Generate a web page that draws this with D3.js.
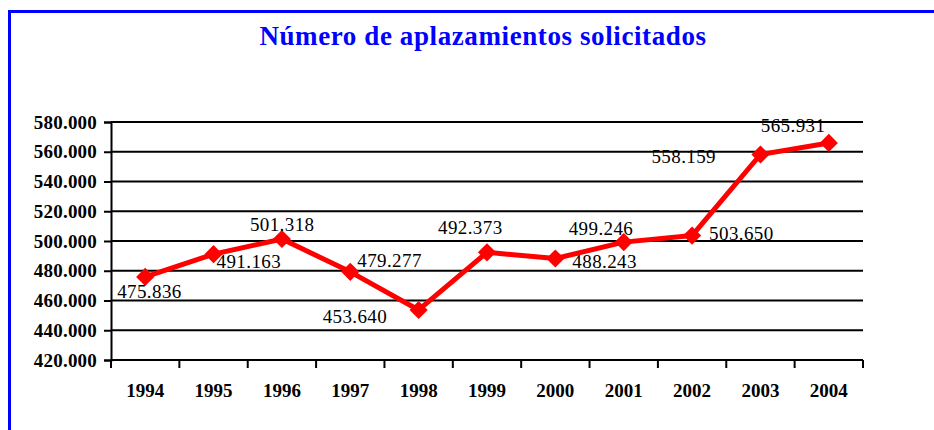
<!DOCTYPE html>
<html>
<head>
<meta charset="utf-8">
<script src="https://cdn.jsdelivr.net/npm/d3@7"></script>
<style>
  body { margin: 0; background: #fff; }
  svg { display: block; }
</style>
</head>
<body>
<div id="chart"></div>
<script>
const width = 934;
const height = 430;

// Data
const years = ["1994", "1995", "1996", "1997", "1998", "1999", "2000", "2001", "2002", "2003", "2004"];
const solicitudes = [475836, 491163, 501318, 479277, 453640, 492373, 488243, 499246, 503650, 558159, 565931];
const yTicks = [420000, 440000, 460000, 480000, 500000, 520000, 540000, 560000, 580000];

// Where each value label sits relative to its marker (dx, dy)
const labelShift = [[-28, 21], [3, 14], [-32, -8], [7, -5], [-96, 13], [-49, -18],
                    [17, 10], [-55, -7], [17, 4], [-109, 9], [-68, -11]];

const margin = { left: 111, right: 71, top: 122, bottom: 70 };
const serif = "'Liberation Serif', 'Times New Roman', serif";

const svg = d3.select("#chart")
    .append("svg")
    .attr("width", width)
    .attr("height", height);

// Blue frame (runs off the right and bottom edges)
svg.append("rect")
    .attr("x", 9.5)
    .attr("y", 11.5)
    .attr("width", width + 20)
    .attr("height", height + 20)
    .attr("fill", "none")
    .attr("stroke", "#0000ff")
    .attr("stroke-width", 3);

svg.append("text")
    .attr("x", 483)
    .attr("y", 45)
    .attr("text-anchor", "middle")
    .attr("font-family", serif)
    .attr("font-weight", "bold")
    .attr("font-size", "27px")
    .attr("letter-spacing", "0.6px")
    .attr("fill", "#0000ff")
    .text("Número de aplazamientos solicitados");

const x = d3.scaleBand()
    .domain(years)
    .range([margin.left, width - margin.right]);

const y = d3.scaleLinear()
    .domain([420000, 580000])
    .range([height - margin.bottom, margin.top]);

const es = d3.formatLocale({ decimal: ",", thousands: ".", grouping: [3], currency: ["", ""] });
const fmt = es.format(",");

// Gridlines
svg.append("g")
    .selectAll("line")
    .data(yTicks.slice(1))
    .enter()
    .append("line")
    .attr("x1", margin.left)
    .attr("x2", width - margin.right)
    .attr("y1", d => y(d))
    .attr("y2", d => y(d))
    .attr("stroke", "#000")
    .attr("stroke-width", 2);

// Y axis
const yAxis = svg.append("g")
    .attr("transform", `translate(${margin.left},0)`)
    .call(d3.axisLeft(y).tickValues(yTicks).tickSize(7).tickPadding(7).tickFormat(fmt));
yAxis.select(".domain").attr("stroke", "#000").attr("stroke-width", 2);
yAxis.selectAll(".tick line").attr("stroke-width", 2);
yAxis.selectAll("text")
    .attr("font-family", serif)
    .attr("font-weight", "bold")
    .attr("font-size", "19px")
    .attr("letter-spacing", "0.2px")
    .attr("fill", "#000");

// X axis with ticks at category boundaries
const xAxis = svg.append("g")
    .attr("transform", `translate(0,${height - margin.bottom})`);
xAxis.append("line")
    .attr("x1", margin.left)
    .attr("x2", width - margin.right)
    .attr("stroke", "#000")
    .attr("stroke-width", 2);
xAxis.selectAll(".xtick")
    .data(years.concat(["end"]))
    .enter()
    .append("line")
    .attr("class", "xtick")
    .attr("x1", d => d === "end" ? x.range()[1] : x(d))
    .attr("x2", d => d === "end" ? x.range()[1] : x(d))
    .attr("y1", 0)
    .attr("y2", 8)
    .attr("stroke", "#000")
    .attr("stroke-width", 2);
xAxis.selectAll(".xlabel")
    .data(years)
    .enter()
    .append("text")
    .attr("class", "xlabel")
    .attr("x", d => x(d) + x.bandwidth() / 2)
    .attr("y", 37)
    .attr("text-anchor", "middle")
    .attr("font-family", serif)
    .attr("font-weight", "bold")
    .attr("font-size", "19px")
    .text(d => d);

// Line
const cx = (d, i) => x(years[i]) + x.bandwidth() / 2;
const line = d3.line()
    .x(cx)
    .y(d => y(d));

svg.append("path")
    .datum(solicitudes)
    .attr("d", line)
    .attr("fill", "none")
    .attr("stroke", "#ff0000")
    .attr("stroke-width", 5)
    .attr("stroke-linejoin", "round");

svg.selectAll(".marker")
    .data(solicitudes)
    .enter()
    .append("path")
    .attr("class", "marker")
    .attr("d", d3.symbol().type(d3.symbolDiamond2).size(210))
    .attr("transform", (d, i) => `translate(${cx(d, i)},${y(d)})`)
    .attr("fill", "#ff0000");

// Value labels
svg.selectAll(".value")
    .data(solicitudes)
    .enter()
    .append("text")
    .attr("class", "value")
    .attr("x", (d, i) => cx(d, i) + labelShift[i][0])
    .attr("y", (d, i) => y(d) + labelShift[i][1])
    .attr("font-family", serif)
    .attr("font-size", "19px")
    .attr("letter-spacing", "0.4px")
    .attr("fill", "#000")
    .text(d => fmt(d));
</script>
</body>
</html>
